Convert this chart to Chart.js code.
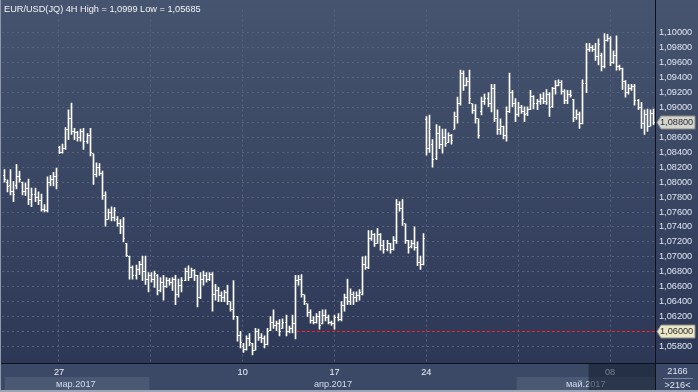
<!DOCTYPE html>
<html lang="ru">
<head>
<meta charset="UTF-8">
<title>EUR/USD(JQ) 4H</title>
<script src="https://cdn.jsdelivr.net/npm/chart.js@4.4.1/dist/chart.umd.min.js"></script>
<style>
  html, body { margin: 0; padding: 0; background: #2f3b58; overflow: hidden; }
  canvas { display: block; }
</style>
</head>
<body>
<canvas id="chart" width="698" height="392"></canvas>
<script>
// 4H bars, oldest first (Wed 22 Mar .. Mon 8 May 2017)
const opens = [
  1.0809,1.0800,1.0796,1.0788,1.0796,1.0807,1.0800,1.0788,1.0791,1.0777,1.0783,1.0780,1.0775,1.0764,1.0762,1.0799,1.0803,1.0807,
  1.0846,1.0840,1.0845,1.0870,1.0885,1.0868,1.0866,1.0860,1.0868,1.0855,1.0862,1.0838,1.0810,1.0820,1.0812,1.0782,1.0750,1.0760,1.0752,1.0750,1.0745,1.0740,1.0718,1.0700,1.0685,1.0675,1.0683,1.0690,1.0680,1.0670,
  1.0675,1.0670,1.0675,1.0655,1.0665,1.0660,1.0668,1.0665,1.0670,1.0650,1.0662,1.0668,1.0680,1.0672,1.0682,1.0675,1.0645,1.0670,1.0675,1.0670,1.0676,1.0650,1.0655,1.0648,1.0645,1.0652,1.0640,1.0630,1.0620,1.0595,
  1.0580,1.0576,1.0590,1.0584,1.0575,1.0600,1.0592,1.0590,1.0582,1.0601,1.0612,1.0608,1.0610,1.0604,1.0612,1.0600,1.0604,1.0610,1.0668,1.0670,1.0649,1.0637,1.0625,1.0615,1.0612,1.0620,1.0610,1.0622,1.0618,1.0612,
  1.0610,1.0618,1.0616,1.0635,1.0645,1.0640,1.0650,1.0645,1.0648,1.0649,1.0690,1.0685,1.0725,1.0730,1.0718,1.0730,1.0715,1.0710,1.0718,1.0710,1.0722,1.0770,1.0765,1.0744,1.0722,1.0714,1.0718,1.0712,1.0692,1.0690,
  1.0884,1.0845,1.0850,1.0832,1.0865,1.0850,1.0860,1.0853,1.0862,1.0871,1.0888,1.0905,1.0945,1.0930,1.0935,1.0905,1.0896,1.0885,1.0895,1.0908,1.0912,1.0905,1.0925,1.0885,1.0870,1.0875,1.0862,1.0895,1.0920,1.0905,
  1.0890,1.0900,1.0895,1.0892,1.0898,1.0915,1.0905,1.0908,1.0912,1.0908,1.0918,1.0902,1.0925,1.0930,1.0934,1.0922,1.0910,1.0918,1.0911,1.0886,1.0890,1.0878,1.0932,1.0978,1.0980,1.0978,1.0968,1.0970,1.0955,1.0990,
  1.0992,1.0960,1.0970,1.0955,1.0952,1.0935,1.0920,1.0925,1.0928,1.0910,1.0900,1.0878,1.0890,1.0875,1.0892
];
const highs = [
  1.0817,1.0803,1.0817,1.0801,1.0824,1.0815,1.0800,1.0799,1.0804,1.0792,1.0792,1.0787,1.0784,1.0770,1.0807,1.0809,1.0813,1.0819,
  1.0848,1.0851,1.0873,1.0897,1.0906,1.0872,1.0868,1.0871,1.0872,1.0865,1.0872,1.0838,1.0826,1.0825,1.0815,1.0787,1.0764,1.0767,1.0766,1.0754,1.0750,1.0753,1.0718,1.0701,1.0688,1.0689,1.0694,1.0701,1.0701,1.0679,
  1.0679,1.0681,1.0676,1.0672,1.0675,1.0672,1.0671,1.0672,1.0675,1.0670,1.0672,1.0685,1.0688,1.0685,1.0683,1.0675,1.0679,1.0681,1.0679,1.0679,1.0679,1.0663,1.0659,1.0653,1.0655,1.0662,1.0640,1.0668,1.0620,1.0600,
  1.0584,1.0594,1.0597,1.0584,1.0604,1.0603,1.0597,1.0594,1.0604,1.0620,1.0629,1.0614,1.0616,1.0617,1.0622,1.0607,1.0622,1.0675,1.0675,1.0676,1.0649,1.0637,1.0629,1.0620,1.0624,1.0627,1.0629,1.0629,1.0622,1.0614,
  1.0622,1.0624,1.0640,1.0650,1.0670,1.0657,1.0653,1.0653,1.0656,1.0700,1.0701,1.0735,1.0735,1.0731,1.0738,1.0731,1.0722,1.0722,1.0718,1.0727,1.0777,1.0774,1.0777,1.0744,1.0722,1.0722,1.0740,1.0720,1.0701,1.0731,
  1.0888,1.0890,1.0857,1.0877,1.0875,1.0871,1.0871,1.0866,1.0864,1.0894,1.0914,1.0950,1.0949,1.0940,1.0950,1.0905,1.0904,1.0885,1.0914,1.0918,1.0920,1.0931,1.0931,1.0897,1.0885,1.0875,1.0901,1.0946,1.0923,1.0912,
  1.0907,1.0903,1.0901,1.0901,1.0923,1.0916,1.0911,1.0918,1.0920,1.0924,1.0920,1.0927,1.0936,1.0937,1.0936,1.0924,1.0923,1.0923,1.0911,1.0897,1.0894,1.0937,1.0986,1.0986,1.0983,1.0986,1.0992,1.0973,1.0999,1.0998,
  1.0995,1.0976,1.0996,1.0957,1.0953,1.0936,1.0931,1.0931,1.0931,1.0911,1.0907,1.0897,1.0898,1.0897,1.0898
];
const lows = [
  1.0800,1.0787,1.0783,1.0774,1.0791,1.0800,1.0783,1.0782,1.0770,1.0767,1.0774,1.0770,1.0761,1.0760,1.0760,1.0795,1.0795,1.0791,
  1.0838,1.0839,1.0844,1.0857,1.0864,1.0857,1.0855,1.0855,1.0844,1.0852,1.0835,1.0797,1.0807,1.0809,1.0777,1.0741,1.0750,1.0748,1.0748,1.0741,1.0731,1.0720,1.0700,1.0670,1.0670,1.0670,1.0676,1.0668,1.0663,1.0653,
  1.0666,1.0659,1.0649,1.0653,1.0642,1.0659,1.0662,1.0655,1.0636,1.0646,1.0653,1.0668,1.0668,1.0672,1.0668,1.0633,1.0644,1.0662,1.0666,1.0668,1.0627,1.0642,1.0640,1.0640,1.0640,1.0636,1.0627,1.0616,1.0587,1.0578,
  1.0572,1.0575,1.0581,1.05685,1.0575,1.0588,1.0585,1.0578,1.0582,1.0601,1.0604,1.0601,1.0594,1.0604,1.0594,1.0598,1.0598,1.0590,1.0662,1.0646,1.0636,1.0620,1.0611,1.0610,1.0611,1.0603,1.0610,1.0614,1.0610,1.0608,
  1.0603,1.0614,1.0614,1.0627,1.0636,1.0636,1.0636,1.0640,1.0642,1.0649,1.0683,1.0684,1.0722,1.0714,1.0718,1.0709,1.0705,1.0708,1.0705,1.0709,1.0718,1.0761,1.0742,1.0718,1.0705,1.0712,1.0709,1.0688,1.0683,1.0689,
  1.0836,1.0840,1.0820,1.0830,1.0845,1.0839,1.0848,1.0853,1.0851,1.0871,1.0879,1.0903,1.0923,1.0929,1.0905,1.0892,1.0879,1.0859,1.0890,1.0904,1.0901,1.0894,1.0881,1.0864,1.0864,1.0858,1.0855,1.0893,1.0901,1.0881,
  1.0888,1.0892,1.0881,1.0889,1.0897,1.0898,1.0897,1.0904,1.0905,1.0904,1.0888,1.0900,1.0918,1.0929,1.0918,1.0905,1.0905,1.0914,1.0881,1.0884,1.0872,1.0878,1.0920,1.0975,1.0975,1.0963,1.0957,1.0949,1.0953,1.0989,
  1.0956,1.0959,1.0950,1.0950,1.0924,1.0914,1.0918,1.0923,1.0903,1.0897,1.0872,1.0864,1.0868,1.0875,1.0877
];
const closes = [
  1.0803,1.0794,1.0788,1.0783,1.0807,1.0803,1.0788,1.0791,1.0777,1.0783,1.0780,1.0775,1.0764,1.0762,1.0799,1.0803,1.0807,1.0800,
  1.0840,1.0845,1.0870,1.0885,1.0868,1.0866,1.0860,1.0868,1.0855,1.0862,1.0840,1.0810,1.0820,1.0812,1.0782,1.0750,1.0760,1.0752,1.0762,1.0745,1.0740,1.0725,1.0702,1.0685,1.0675,1.0683,1.0690,1.0680,1.0670,1.0675,
  1.0670,1.0677,1.0655,1.0665,1.0660,1.0668,1.0665,1.0670,1.0650,1.0662,1.0668,1.0680,1.0672,1.0682,1.0675,1.0645,1.0670,1.0675,1.0670,1.0676,1.0650,1.0655,1.0648,1.0645,1.0652,1.0640,1.0630,1.0620,1.0595,1.0585,
  1.0576,1.0590,1.0585,1.0575,1.0600,1.0592,1.0590,1.0582,1.0600,1.0612,1.0608,1.0610,1.0600,1.0612,1.0600,1.0604,1.0610,1.0668,1.0670,1.0650,1.0640,1.0625,1.0615,1.0612,1.0620,1.0608,1.0622,1.0618,1.0612,1.0610,
  1.0618,1.0616,1.0635,1.0645,1.0640,1.0650,1.0645,1.0648,1.0652,1.0690,1.0685,1.0725,1.0730,1.0718,1.0730,1.0715,1.0710,1.0718,1.0710,1.0722,1.0770,1.0765,1.0750,1.0722,1.0712,1.0718,1.0712,1.0692,1.0690,1.0724,
  1.0845,1.0870,1.0830,1.0865,1.0850,1.0860,1.0852,1.0862,1.0856,1.0888,1.0905,1.0945,1.0930,1.0935,1.0912,1.0896,1.0885,1.0862,1.0908,1.0912,1.0905,1.0925,1.0885,1.0870,1.0875,1.0862,1.0895,1.0920,1.0905,1.0890,
  1.0900,1.0895,1.0890,1.0898,1.0915,1.0905,1.0908,1.0912,1.0908,1.0918,1.0900,1.0925,1.0930,1.0934,1.0922,1.0910,1.0918,1.0916,1.0886,1.0890,1.0878,1.0932,1.0978,1.0980,1.0978,1.0968,1.0985,1.0955,1.0990,1.0992,
  1.0960,1.0970,1.0955,1.0952,1.0935,1.0920,1.0925,1.0928,1.0910,1.0900,1.0878,1.0890,1.0875,1.0892,1.0880
];

// time axis: week starts (bar index) and their day labels
const weekStarts = [18, 48, 78, 108, 138, 168, 198];
const dayLabels = ['27', '', '10', '17', '24', '', '08'];
const months = ['мар.2017', 'апр.2017', 'май.2017'];
const monthStarts = [0, 48, 168];
const priceTicks = [1.058, 1.060, 1.062, 1.064, 1.066, 1.068, 1.070, 1.072, 1.074, 1.076, 1.078,
                    1.080, 1.082, 1.084, 1.086, 1.088, 1.090, 1.092, 1.094, 1.096, 1.098, 1.100];
const title = 'EUR/USD(JQ) 4H High = 1,0999 Low = 1,05685';
const alertLevel = 1.06;
const alertFromBar = 95.7;
const shadeFromBar = 191;
const counterTop = '2166';
const counterBottom = '>216<';

const FONT = '"Liberation Sans", Arial, sans-serif';
const fmt = v => v.toFixed(5).replace('.', ',');

Chart.defaults.font.family = FONT;
Chart.defaults.font.size = 9.2;

const bg = {
  id: 'bg',
  beforeDraw(chart) {
    const {ctx, chartArea: a, width, height} = chart;
    const x = chart.scales.x;
    ctx.save();
    const g = ctx.createLinearGradient(0, 0, 0, a.bottom);
    g.addColorStop(0, '#47546f');
    g.addColorStop(1, '#2c3856');
    ctx.fillStyle = g;
    ctx.fillRect(0, 0, width, a.bottom);
    ctx.fillStyle = '#3c4966';
    ctx.fillRect(0, a.bottom, width, height - a.bottom);
    // alternating month bands
    const step = x.getPixelForValue(1) - x.getPixelForValue(0);
    ctx.fillStyle = '#4b5874';
    monthStarts.forEach((m, i) => {
      if (i % 2) return;
      const x0 = Math.max(a.left + 3, x.getPixelForValue(m) - step / 2);
      const next = monthStarts[i + 1] !== undefined ? x.getPixelForValue(monthStarts[i + 1]) - step / 2 : a.right;
      ctx.fillRect(x0, a.bottom + 14, next - x0, 13);
    });
    ctx.restore();
  },
  afterDatasetsUpdate(chart) {
    // snap the 1px high-low bars to whole pixels
    chart.getDatasetMeta(0).data.forEach(el => { el.x = Math.round(el.x) + 0.5; });
  },
  afterDatasetsDraw(chart) {
    const {ctx} = chart;
    const y = chart.scales.y;
    ctx.save();
    ctx.fillStyle = '#ffffff';
    chart.getDatasetMeta(0).data.forEach((el, i) => {
      const left = el.x - 0.5;
      ctx.fillRect(left - 1, Math.floor(y.getPixelForValue(opens[i])), 1, 1);
      ctx.fillRect(left + 1, Math.floor(y.getPixelForValue(closes[i])), 1, 1);
    });
    // alert level
    const ya = Math.floor(y.getPixelForValue(alertLevel)) + 0.5;
    ctx.strokeStyle = '#ff1f1f';
    ctx.lineWidth = 1;
    ctx.setLineDash([3, 2]);
    ctx.beginPath();
    ctx.moveTo(chart.scales.x.getPixelForValue(alertFromBar), ya);
    ctx.lineTo(chart.chartArea.right, ya);
    ctx.stroke();
    ctx.restore();
  },
  afterDraw(chart) {
    const {ctx, chartArea: a, width, height} = chart;
    const x = chart.scales.x, y = chart.scales.y;
    ctx.save();
    ctx.font = '9.2px ' + FONT;
    ctx.textBaseline = 'middle';

    // title
    ctx.fillStyle = '#f1f4f9';
    ctx.textAlign = 'left';
    ctx.fillText(title, 4, 9);

    // month labels
    const step = x.getPixelForValue(1) - x.getPixelForValue(0);
    ctx.fillStyle = '#d3dcee';
    ctx.textAlign = 'center';
    monthStarts.forEach((m, i) => {
      const x0 = x.getPixelForValue(m) - step / 2;
      const x1 = monthStarts[i + 1] !== undefined ? x.getPixelForValue(monthStarts[i + 1]) - step / 2 : a.right;
      ctx.fillText(months[i], (Math.max(x0, a.left) + x1) / 2, a.bottom + 21);
    });

    // shaded strip at the end of the time axis
    const xs = x.getPixelForValue(shadeFromBar);
    ctx.fillStyle = 'rgba(18, 25, 44, 0.55)';
    ctx.fillRect(xs, a.bottom + 1, a.right - xs, height - a.bottom - 1);

    // frame lines
    ctx.fillStyle = '#0c111c';
    ctx.fillRect(a.right, 0, 1, height);
    ctx.fillRect(0, a.bottom, width, 1);
    ctx.fillStyle = '#8e98aa';
    ctx.fillRect(0, 0, 1, height);
    ctx.fillStyle = '#9ca5b5';
    ctx.fillRect(0, height - 2, width, 2);

    // bar counter box
    const cx = (a.right + width) / 2 + 1;
    ctx.fillStyle = '#dde4f1';
    ctx.fillText(counterTop, cx, a.bottom + 8);
    ctx.fillText(counterBottom, cx, a.bottom + 22);
    ctx.fillStyle = '#7e8aa4';
    ctx.fillRect(a.right + 8, a.bottom + 15, 30, 1);

    // price markers on the axis
    const marker = (value, fill) => {
      const py = Math.round(y.getPixelForValue(value)) + 0.5;
      ctx.beginPath();
      ctx.moveTo(a.right + 2, py);
      ctx.lineTo(a.right + 6, py - 6.5);
      ctx.lineTo(width - 3, py - 6.5);
      ctx.lineTo(width - 3, py + 6.5);
      ctx.lineTo(a.right + 6, py + 6.5);
      ctx.closePath();
      ctx.fillStyle = fill;
      ctx.fill();
      ctx.strokeStyle = '#8c8c84';
      ctx.lineWidth = 1;
      ctx.stroke();
      ctx.fillStyle = '#2a2d33';
      ctx.textAlign = 'left';
      ctx.fillText(fmt(value), a.right + 5, py);
    };
    marker(closes[closes.length - 1], '#d4d4ce');
    marker(alertLevel, '#ebe7c7');
    ctx.restore();
  }
};

new Chart(document.getElementById('chart'), {
  type: 'bar',
  data: {
    datasets: [{
      data: highs.map((h, i) => ({x: i, y: [lows[i], h]})),
      backgroundColor: '#ffffff',
      borderWidth: 0,
      barThickness: 1
    }]
  },
  options: {
    responsive: false,
    animation: false,
    events: [],
    layout: {padding: {left: 2, top: 0, right: 0, bottom: 0}},
    plugins: {legend: {display: false}, tooltip: {enabled: false}},
    scales: {
      x: {
        type: 'linear',
        min: -0.62,
        max: 212.7,
        offset: false,
        grid: {color: '#56637f', drawTicks: false, offset: false},
        border: {display: false, dash: [2, 3]},
        afterBuildTicks: s => { s.ticks = weekStarts.map(v => ({value: v})); },
        afterFit: s => { s.height = 29; },
        ticks: {
          autoSkip: false,
          maxRotation: 0,
          padding: 4,
          color: '#eef2f8',
          callback: (v, i) => dayLabels[i]
        }
      },
      y: {
        position: 'right',
        min: 1.05577,
        max: 1.10313,
        grid: {color: '#56637f', drawTicks: false},
        border: {display: false, dash: [2, 3]},
        afterBuildTicks: s => { s.ticks = priceTicks.map(v => ({value: v})); },
        afterFit: s => { s.width = 43; },
        ticks: {
          padding: 4,
          color: '#dfe6f2',
          callback: v => fmt(v)
        }
      }
    }
  },
  plugins: [bg]
});
</script>
</body>
</html>
